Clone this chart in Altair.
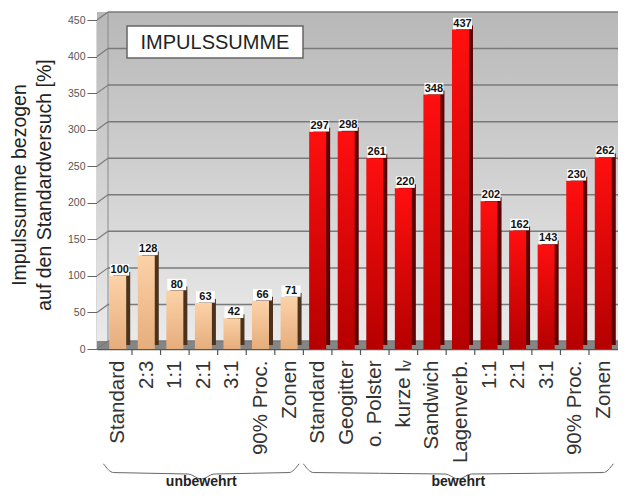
import json
import altair as alt
import pandas as pd

# ---- data ----
labels = ["Standard", "2:3", "1:1", "2:1", "3:1", "90% Proc.", "Zonen",
          "Standard", "Geogitter", "o. Polster", "kurze lᵥ", "Sandwich", "Lagenverb.",
          "1:1", "2:1", "3:1", "90% Proc.", "Zonen"]
values = [100, 128, 80, 63, 42, 66, 71,
          297, 298, 261, 220, 348, 437, 202, 162, 143, 230, 262]
groups = ["unbewehrt"] * 7 + ["bewehrt"] * 11
group_names = ["unbewehrt", "bewehrt"]
y_ticks = [0, 50, 100, 150, 200, 250, 300, 350, 400, 450]
title_text = "IMPULSSUMME"
y_title = ["Impulssumme bezogen", "auf den Standardversuch [%]"]

W, H = 521, 329
FONT = "Liberation Sans"
NARROW = "Liberation Sans Narrow, Liberation Sans"

df = pd.DataFrame({"idx": list(range(len(values))), "label": labels,
                   "value": values, "group": groups})
one = pd.DataFrame({"a": [0]})
ticks_df = pd.DataFrame({"v": y_ticks})

xs = alt.Scale(domain=[-0.55, 17.34], nice=False, zero=False)
ys = alt.Scale(domain=[0, 450], nice=False)
label_expr = json.dumps(labels, ensure_ascii=False) + "[datum.value]"

x_axis = alt.Axis(
    values=list(range(len(labels))), labelExpr=label_expr, labelAngle=270,
    labelAlign="right", labelBaseline="middle", labelFontSize=20.5,
    labelColor="#333333", labelFont=FONT, labelPadding=11, ticks=False,
    domainColor="#555555", domainWidth=1.5, grid=False, title=None,
    labelOverlap=False, labelBound=False, labelFlush=False)
y_axis = alt.Axis(
    values=y_ticks, labelFontSize=10.5, labelColor="#555555", labelFont=NARROW,
    tickSize=10, tickColor="#666666", domainColor="#666666", domainWidth=1.5,
    labelPadding=2, grid=False, title=y_title, titleFont=FONT,
    titleFontSize=19.5, titleFontWeight="normal", titleColor="#222222",
    titlePadding=13, titleLineHeight=25, labelOverlap=False)


def Xf(f):
    return alt.X(f, scale=xs, axis=x_axis)


def Yf(f):
    return alt.Y(f, scale=ys, axis=y_axis)


def grad(top, bottom):
    return alt.Gradient(gradient="linear",
                        stops=[alt.GradientStop(color=top, offset=0),
                               alt.GradientStop(color=bottom, offset=1)],
                        x1=0, x2=0, y1=0, y2=1)


background = alt.Chart(one).mark_rect(color=grad("#b8b8b8", "#eaeaea")).encode(
    x=alt.value(0), x2=alt.value(W), y=alt.value(-8), y2=alt.value(H - 8))
floor = alt.Chart(one).mark_rect(color="#858585").encode(
    x=alt.value(0), x2=alt.value(W), y=alt.value(H - 8), y2=alt.value(H))
wall_edge = alt.Chart(one).mark_rule(color="#8a8a8a", strokeWidth=1).encode(
    x=alt.value(11), y=alt.value(-8), y2=alt.value(H - 8))

grid = alt.Chart(ticks_df).mark_rule(color="#7a7a7a", strokeWidth=1.5, yOffset=-8).encode(
    y=Yf("v:Q"), x=alt.value(11), x2=alt.value(W))
grid_diag = alt.Chart(ticks_df).mark_rule(color="#7a7a7a", strokeWidth=1.2, y2Offset=-8).encode(
    y=Yf("v:Q"), y2=alt.Y2("v"), x=alt.value(0), x2=alt.value(11))

x_ticks = alt.Chart(df).transform_filter(alt.datum.idx < len(values) - 1).transform_calculate(
    t="datum.idx + 0.5").mark_rule(color="#555555", strokeWidth=1.2).encode(
    x=Xf("t:Q"), y=alt.value(H), y2=alt.value(H + 6))

base = alt.Chart(df)
bar_layers = []
for g, side, top, bottom in [("unbewehrt", "#4a321c", "#fcd2a8", "#e6ad7c"),
                             ("bewehrt", "#5e0000", "#ff0f0f", "#b50000")]:
    sub = base.transform_filter(alt.datum.group == g)
    bar_layers.append(sub.mark_bar(color=side, size=17, xOffset=4, yOffset=-4, y2Offset=-4)
                      .encode(x=Xf("idx:Q"), y=Yf("value:Q")))
    bar_layers.append(sub.mark_bar(color=grad(top, bottom), size=17)
                      .encode(x=Xf("idx:Q"), y=Yf("value:Q")))

box = base.mark_point(shape="M -1 -0.6 L 1 -0.6 L 1 0.6 L -1 0.6 Z", filled=True,
                      fill="white", opacity=1, strokeWidth=0, size=361,
                      yOffset=-6, xOffset=2).encode(x=Xf("idx:Q"), y=Yf("value:Q"))
vals = base.mark_text(font=NARROW, fontWeight="bold", fontSize=11, color="#111111",
                      dy=-6, dx=2).encode(x=Xf("idx:Q"), y=Yf("value:Q"), text="value:Q")

title_box = alt.Chart(one).mark_rect(fill="white", stroke="#666666", strokeWidth=1.5).encode(
    x=alt.value(30), x2=alt.value(206), y=alt.value(6), y2=alt.value(38))
title_txt = alt.Chart(one).mark_text(font=FONT, fontSize=20, color="#222222").encode(
    x=alt.value(118), y=alt.value(23), text=alt.value(title_text))

# braces under the category groups
rows = []
for g in group_names:
    ids = [i for i, gg in enumerate(groups) if gg == g]
    x0, x1 = ids[0] - 0.5, ids[-1] + 0.35
    xm = (x0 + x1) / 2
    pts = [(x0, -157), (x0 + 0.35, -169), (xm - 0.45, -171), (xm, -178),
           (xm + 0.45, -171), (x1 - 0.35, -169), (x1, -157)]
    for o, (px, py) in enumerate(pts):
        rows.append({"g": g, "o": o, "x": px, "y": py, "xm": xm})
brace_df = pd.DataFrame(rows)
braces = alt.Chart(brace_df).mark_line(color="#666666", strokeWidth=1, interpolate="monotone").encode(
    x=Xf("x:Q"), y=Yf("y:Q"), detail="g:N", order="o:Q")
brace_lbl = alt.Chart(brace_df).transform_filter(alt.datum.o == 3).mark_text(
    font=FONT, fontSize=14, fontWeight="bold", color="#222222", baseline="middle").encode(
    x=Xf("xm:Q"), y=alt.value(H + 133), text="g:N")

chart = alt.layer(background, floor, wall_edge, grid, grid_diag, *bar_layers, x_ticks,
                  box, vals, title_box, title_txt, braces, brace_lbl).properties(
    width=W, height=H,
    autosize=alt.AutoSizeParams(type="none"),
    padding={"left": 89, "top": 12, "right": 0, "bottom": 141},
).configure_view(stroke=None).configure(background="white")

chart.save("out.html", embed_options={"renderer": "svg", "actions": False})
